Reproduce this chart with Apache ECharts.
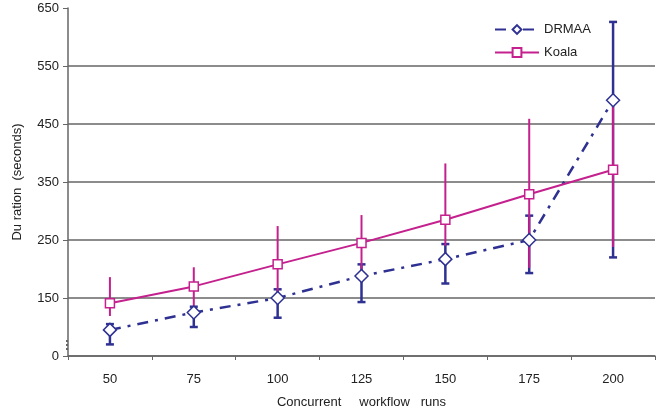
<!DOCTYPE html>
<html>
<head>
<meta charset="utf-8">
<script src="https://cdn.jsdelivr.net/npm/echarts@6/dist/echarts.min.js"></script>
<style>
  html, body { margin: 0; padding: 0; background: #fff; }
  #chart { width: 671px; height: 412px; }
</style>
</head>
<body>
<div id="chart"></div>
<script>
// values (axis is broken: bottom tick "0" sits at 50)
const categories = ['50', '75', '100', '125', '150', '175', '200']
const drmaa = [95, 125, 150, 188, 217, 250, 491]
const drmaaLow = [70, 100, 116, 143, 175, 193, 220]
const drmaaHigh = [105, 135, 165, 208, 243, 292, 626]
const koala = [141, 170, 208, 245, 285, 329, 371]
const koalaLow = [119, 135, 150, 200, 240, 202, 238]
const koalaHigh = [186, 203, 274, 293, 382, 459, 483]
const yLabels = { 50: '0', 150: '150', 250: '250', 350: '350', 450: '450', 550: '550', 650: '650' }

const navy = '#2e3192'
const magenta = '#c4208e'

function errorData(low, high) {
  return categories.map((c, i) => [i, low[i], high[i]])
}

function errorBars(color, width, cap) {
  return function (params, api) {
    const i = api.value(0)
    const lo = api.coord([i, api.value(1)])
    const hi = api.coord([i, api.value(2)])
    const style = { stroke: color, lineWidth: width }
    const kids = [{ type: 'line', shape: { x1: lo[0], y1: lo[1], x2: hi[0], y2: hi[1] }, style: style }]
    if (cap) {
      kids.push({ type: 'line', shape: { x1: lo[0] - cap, y1: lo[1], x2: lo[0] + cap, y2: lo[1] }, style: style })
      kids.push({ type: 'line', shape: { x1: hi[0] - cap, y1: hi[1], x2: hi[0] + cap, y2: hi[1] }, style: style })
    }
    return { type: 'group', children: kids }
  }
}

const myChart = echarts.init(document.getElementById('chart'))
myChart.setOption({
  animation: false,
  textStyle: { fontFamily: 'Liberation Sans, Arial, sans-serif' },
  grid: { left: 68, right: 16, top: 8, bottom: 56, outerBoundsMode: 'none', containLabel: false },
  legend: {
    orient: 'vertical',
    left: 489,
    top: 18,
    itemWidth: 44,
    itemHeight: 11,
    itemGap: 10,
    textStyle: { fontSize: 13, color: '#222' },
    data: ['DRMAA', 'Koala']
  },
  xAxis: {
    type: 'category',
    data: categories,
    boundaryGap: true,
    name: 'Concurrent     workflow   runs',
    nameLocation: 'middle',
    nameGap: 40,
    nameTextStyle: { fontSize: 13, color: '#222' },
    axisLine: { lineStyle: { color: '#666', width: 1.5 } },
    axisTick: { show: true, length: 4, lineStyle: { color: '#666' } },
    axisLabel: { fontSize: 13, color: '#222', margin: 17 }
  },
  yAxis: {
    type: 'value',
    min: 50,
    max: 650,
    interval: 100,
    name: 'Du ration  (seconds)',
    nameLocation: 'middle',
    nameGap: 44,
    nameTextStyle: { fontSize: 13, color: '#222' },
    axisLine: { show: true, lineStyle: { color: '#666', width: 1.5 } },
    axisTick: { show: true, length: 5, lineStyle: { color: '#666' } },
    axisLabel: { fontSize: 13, color: '#222', margin: 9, formatter: v => yLabels[v] || '' },
    splitLine: {
      show: true,
      lineStyle: { color: ['#666', '#666', '#666', '#666', '#666', '#666', 'rgba(0,0,0,0)'], width: 1.5 }
    }
  },
  graphic: [
    { type: 'circle', left: 66, top: 340, shape: { r: 1 }, style: { fill: '#333' } },
    { type: 'circle', left: 66, top: 344, shape: { r: 1 }, style: { fill: '#333' } },
    { type: 'circle', left: 66, top: 348, shape: { r: 1 }, style: { fill: '#333' } }
  ],
  series: [
    {
      name: 'DRMAA err',
      type: 'custom',
      renderItem: errorBars(navy, 2.5, 4),
      data: errorData(drmaaLow, drmaaHigh),
      encode: { x: 0, y: [1, 2] },
      z: 1
    },
    {
      name: 'Koala err',
      type: 'custom',
      renderItem: errorBars(magenta, 2, 0),
      data: errorData(koalaLow, koalaHigh),
      encode: { x: 0, y: [1, 2] },
      z: 2
    },
    {
      name: 'DRMAA',
      type: 'line',
      data: drmaa,
      symbol: 'diamond',
      symbolSize: 13,
      itemStyle: { color: '#fff', borderColor: navy, borderWidth: 1.5 },
      lineStyle: { color: navy, width: 2.5, type: [11, 7, 3, 7] },
      z: 3
    },
    {
      name: 'Koala',
      type: 'line',
      data: koala,
      symbol: 'rect',
      symbolSize: 9,
      itemStyle: { color: '#fff', borderColor: magenta, borderWidth: 1.5 },
      lineStyle: { color: magenta, width: 2 },
      z: 4
    }
  ]
})
</script>
</body>
</html>
